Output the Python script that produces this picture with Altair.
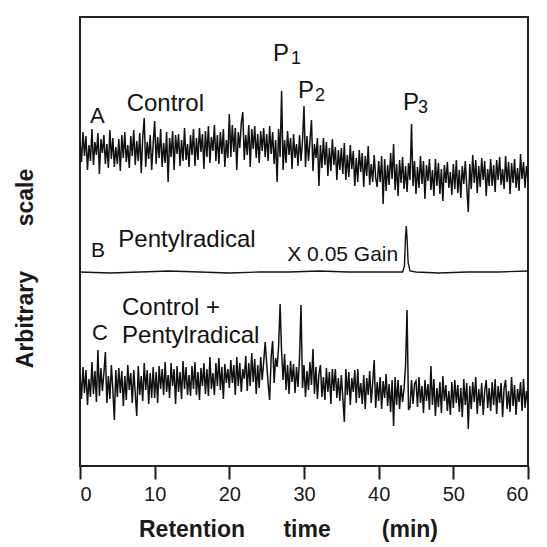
import altair as alt
import pandas as pd

# ---------------- data (heights in arbitrary units) ----------------
STEP = 0.2  # minutes between samples of traces A and C

A_ROWS = [
    [325,304,334,310,330,296,321,305,337,301,324,311,333,292,327,313,331,302,322,298,336,307,328,299,319],
    [302,327,295,331,308,334,304,321,298,330,310,336,301,325,305,333,293,328,348,299,324,307,331,296,322],
    [345,302,329,308,337,299,323,303,334,284,328,309,335,296,331,312,332,300,326,305,338,306,322,299,331],
    [311,337,300,328,306,338,314,332,297,335,309,340,303,329,315,341,305,331,302,334,312,337,299,326,308],
    [352,309,341,314,338,296,334,318,343,354,306,331,311,341,299,337,317,340,308,332,303,335,315,338,309],
    [332,305,340,312,334,302,326,284,337,309,375,296,326,303,335,311,328,297,332,308,322,300,331,305,325],
    [360,299,330,305,325,346,295,322,308,328,280,321,298,328,301,324,290,318,295,327,301,319,286,316,296],
    [318,292,323,286,311,289,321,297,315,280,308,284,316,294,313,279,310,290,320,281,302,284,311,288,279],
    [305,284,310,262,307,275,301,281,313,287,322,276,302,270,306,283,309,277,300,274,303,286,342,280,305],
    [272,299,278,310,282,305,267,301,285,307,276,296,270,307,280,303,272,297,265,301,283,304,278,294,271],
    [302,277,306,273,296,268,300,282,305,279,254,302,277,311,283,306,273,300,279,308,286,305,270,297,280],
    [307,280,301,274,306,286,309,281,297,277,310,284,304,272,303,283,307,278,298,275,312,287,304,278,300,286],
]

C_ROWS = [
    [92,67,99,73,96,61,87,69,104,72,95,64,116,70,98,75,93,114,63,90,67,101,76,46,96],
    [69,98,73,95,60,90,66,101,76,93,63,96,72,50,100,71,90,65,103,76,96,62,93,68,99],
    [68,94,63,100,77,97,71,104,74,91,68,103,80,97,62,100,74,94,67,105,77,99,71,91,70],
    [100,77,104,71,94,66,98,80,103,72,97,70,109,77,93,71,103,80,108,76,99,67,102,83,97],
    [78,106,83,101,71,109,80,103,74,97,87,110,75,103,80,113,84,107,72,101,78,109,86,104,124],
    [103,82,66,109,125,83,108,99,120,162,114,86,112,76,101,72,105,84,102,73,99,79,108,161,78],
    [101,69,95,76,104,81,117,72,99,67,92,101,69,89,66,98,74,94,62,97,75,97,68,88,65],
    [91,68,44,97,71,94,61,88,74,96,63,97,68,83,62,91,57,88,71,95,63,83,106,58,84],
    [65,89,57,85,68,92,60,82,54,86,40,89,61,86,57,81,64,77,100,156,56,59,86,62,82],
    [85,59,89,63,80,53,86,65,82,56,100,61,87,50,78,59,84,53,90,65,81,55,75,51,84],
    [58,86,63,81,54,78,49,87,61,83,37,80,57,84,64,89,52,77,60,83,51,75,86,58,78],
    [55,84,61,87,52,80,63,83,49,78,86,57,75,54,89,60,81,51,77,64,84,55,87,58,75,61],
]

B_TIMES = [0, 4, 8, 12, 16, 20, 24, 28, 32, 36, 40, 42, 43.2, 43.45, 43.6, 43.7, 43.8, 43.95, 44.2, 45, 48, 52, 56, 60]
B_VALUES = [194, 193, 194, 195, 194, 193, 194, 194, 195, 194, 194, 194, 194, 200, 230, 240, 228, 203, 195, 194, 193, 194, 194, 195]

X_TICKS = [0, 10, 20, 30, 40, 50, 60]

LABEL_TEXT = ["A", "Control", "B", "Pentylradical", "X 0.05 Gain", "C", "Control +", "Pentylradical",
              "P", "1", "P", "2", "P", "3"]
LABEL_T = [1.34, 6.25, 1.47, 5.13, 27.76, 1.61, 5.63, 5.63, 25.85, 28.26, 29.2, 31.47, 43.26, 45.27]
LABEL_V = [343, 355, 209, 219, 205, 126, 151, 123, 405, 402, 368, 365, 356, 353]
LABEL_SIZE = [22, 24, 21, 24, 21, 22, 24, 24, 24, 18, 24, 18, 24, 18]

# ---------------- build tables ----------------
a_vals = [v for row in A_ROWS for v in row]
c_vals = [v for row in C_ROWS for v in row]
times_a = [round(i * STEP, 1) for i in range(len(a_vals))]
times_c = [round(i * STEP, 1) for i in range(len(c_vals))]

df_a = pd.DataFrame({"t": times_a, "v": a_vals})
df_c = pd.DataFrame({"t": times_c, "v": c_vals})
df_b = pd.DataFrame({"t": B_TIMES, "v": B_VALUES})
df_lab = pd.DataFrame({"t": LABEL_T, "v": LABEL_V, "text": LABEL_TEXT, "size": LABEL_SIZE})

NBSP = "\u00a0"
x_title = "Retention" + NBSP * 6 + "time" + NBSP * 8 + "(min)"
y_title = "Arbitrary" + NBSP * 7 + "scale"

x_axis = alt.Axis(
    values=X_TICKS, format="d", grid=False, domain=False,
    labelFont="Liberation Sans", labelFontSize=20, labelColor="#1a1a1a", labelPadding=5,
    tickSize=13, tickWidth=2, tickColor="#1a1a1a",
    title=x_title, titleFont="Liberation Sans", titleFontSize=23, titleFontWeight="bold",
    titleColor="#1a1a1a", titleX=208, titleY=70, titleAlign="center", titleBaseline="alphabetic",
)
y_axis = alt.Axis(
    labels=False, ticks=False, domain=False, grid=False,
    title=y_title, titleFont="Liberation Sans", titleFontSize=23, titleFontWeight="bold",
    titleColor="#1a1a1a", titleAngle=270, titleX=-55, titleY=251, titleAlign="center",
    titleBaseline="middle",
)

X = alt.X("t:Q", scale=alt.Scale(domain=[0, 60], nice=False, zero=False), axis=x_axis)
Y = alt.Y("v:Q", scale=alt.Scale(domain=[0, 449], nice=False, zero=False), axis=y_axis)

line_a = alt.Chart(df_a).mark_line(color="#111111", strokeWidth=1.5, strokeJoin="miter").encode(x=X, y=Y)
line_c = alt.Chart(df_c).mark_line(color="#111111", strokeWidth=1.5, strokeJoin="miter").encode(x=X, y=Y)
line_b = alt.Chart(df_b).mark_line(color="#141414", strokeWidth=1.4).encode(x=X, y=Y)

labels = alt.Chart(df_lab).mark_text(
    align="left", baseline="alphabetic", font="Liberation Sans", color="#111111"
).encode(x=X, y=Y, text="text:N", size=alt.Size("size:Q", scale=None))

chart = (
    alt.layer(line_a, line_b, line_c, labels)
    .properties(
        width=448, height=449,
        padding={"left": 72, "top": 9, "right": 11, "bottom": 80},
        autosize=alt.AutoSizeParams(type="none"),
        background="white",
    )
    .configure_view(stroke="#222", strokeWidth=2)
)

chart.save("out.html", embed_options={"renderer": "svg", "actions": False})
